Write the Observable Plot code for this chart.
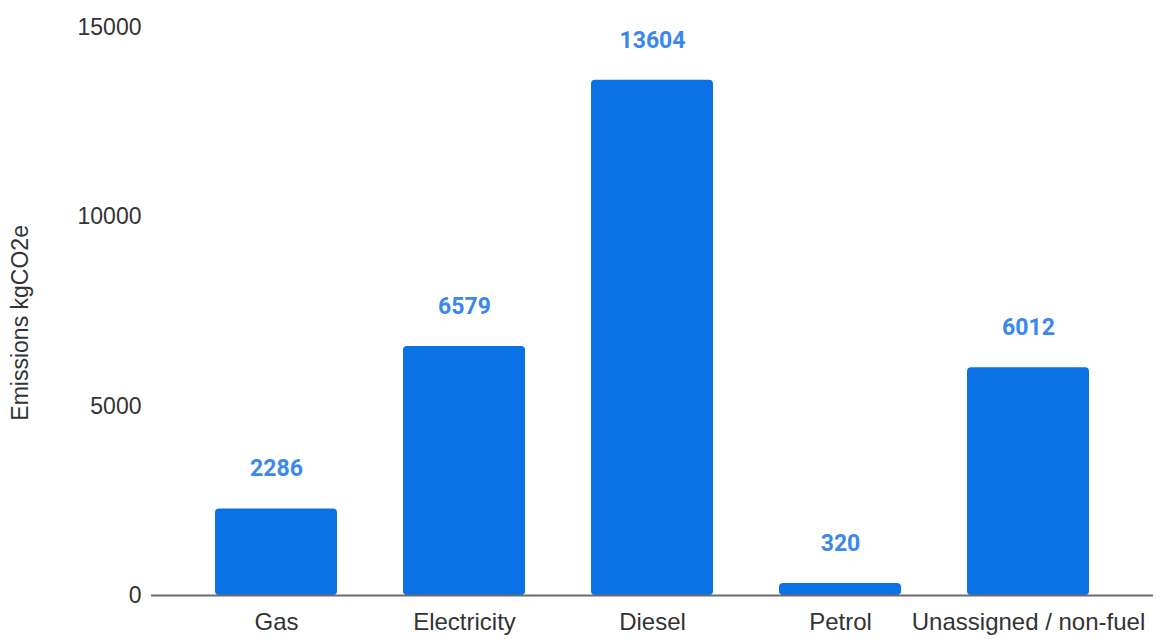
<!DOCTYPE html>
<html>
<head>
<meta charset="utf-8">
<script src="https://cdn.jsdelivr.net/npm/d3@7"></script>
<script src="https://cdn.jsdelivr.net/npm/@observablehq/plot@0.6"></script>
<style>
  html, body { margin: 0; padding: 0; background: #fff; }
  #chart svg { display: block; }
</style>
</head>
<body>
<div id="chart"></div>
<script>
// Emissions by fuel source (kgCO2e)
const fuels = ["Gas", "Electricity", "Diesel", "Petrol", "Unassigned / non-fuel"];
const emissions = [2286, 6579, 13604, 320, 6012];
const yTicks = [0, 5000, 10000, 15000];
const yTitle = "Emissions kgCO2e";

const rows = fuels.map((fuel, i) => ({fuel, value: emissions[i]}));

const chart = Plot.plot({
  width: 1156,
  height: 639,
  marginTop: 27,
  marginBottom: 44,
  marginLeft: 151,
  marginRight: 3,
  style: {fontFamily: "'Liberation Sans', Arial, sans-serif", fontSize: "24px", color: "#333", background: "#fff"},
  x: {domain: fuels, paddingInner: 0.35, paddingOuter: 0.33, label: null},
  y: {domain: [0, 15000], label: null},
  marks: [
    Plot.axisY({
      ticks: yTicks,
      tickSize: 0,
      tickPadding: 10,
      tickFormat: d => String(d),
      fontSize: 23,
      fill: "#333",
      label: null
    }),
    // rotated y-axis title, sitting a little below the frame's middle
    Plot.text([yTitle], {
      frameAnchor: "left", y: 7200, dx: -131, rotate: -90,
      textAnchor: "middle", lineAnchor: "middle",
      text: d => d, fontSize: 23, fill: "#333"
    }),
    Plot.axisX({tickSize: 0, tickPadding: 17, fontSize: 24, fill: "#333", label: null}),
    Plot.barY(rows, {x: "fuel", y: "value", fill: "#0b72e6", rx: 4}),
    Plot.ruleY([0], {stroke: "#6b6b6b", strokeWidth: 2}),
    Plot.text(rows, {
      x: "fuel", y: "value", text: d => String(d.value),
      dy: -40, fill: "#3a87ee", fontSize: 23, fontWeight: 700,
      fontFamily: "Roboto, sans-serif"
    })
  ]
});

document.getElementById("chart").appendChild(chart);
</script>
</body>
</html>
